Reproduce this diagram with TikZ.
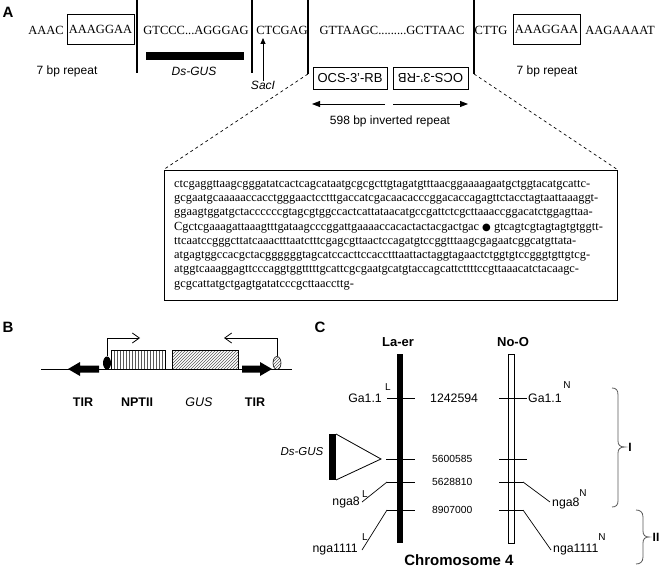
\documentclass[tikz,border=0pt]{standalone}
\usepackage{fontspec}
\setmainfont{Liberation Serif}
\setsansfont{Liberation Sans}
\newfontfamily\dejavu{DejaVu Sans}
\usetikzlibrary{arrows.meta,patterns,shapes.geometric}
\begin{document}
\begin{tikzpicture}[x=1pt,y=-1pt,
  seqtxt/.style={font=\rmfamily\fontsize{12.5}{14}\selectfont, inner sep=0pt},
  dna/.style={font=\rmfamily\fontsize{12.4}{14}\selectfont, inner sep=0pt, anchor=west},
  lab/.style={font=\sffamily\fontsize{12}{14}\selectfont, inner sep=0pt},
  ilab/.style={font=\sffamily\itshape\fontsize{12}{14}\selectfont, inner sep=0pt},
  panel/.style={font=\sffamily\bfseries\fontsize{15}{17}\selectfont, inner sep=0pt},
  blab/.style={font=\sffamily\bfseries\fontsize{12.5}{14}\selectfont, inner sep=0pt},
  mklab/.style={font=\sffamily\fontsize{12.3}{14}\selectfont, inner sep=0pt},
  num/.style={font=\sffamily\fontsize{10.3}{12}\selectfont, inner sep=0pt, anchor=west},
  supl/.style={font=\sffamily\fontsize{10}{11}\selectfont, inner sep=0pt},
  sepline/.style={line width=2.6pt},
  ocsbox/.style={draw, line width=0.8pt, minimum height=22pt, inner sep=0pt, font=\sffamily\fontsize{13}{15}\selectfont},
  tickline/.style={line width=0.8pt},
  conn/.style={line width=0.7pt},
  bent/.style={line width=0.8pt, -{Straight Barb[length=7pt,width=10pt]}},
  bracepath/.style={line width=0.8pt, gray!70!black}
]
\useasboundingbox (0,0) rectangle (661,569);

% ---------------- Panel A ----------------
\node[panel] (A) at (8,12) {A};
\node[seqtxt] (s1) at (46,30) {AAAC};
\node[seqtxt, draw, line width=0.8pt, minimum width=67pt, minimum height=30pt] (r1) at (100.5,29) {AAAGGAA};
\node[seqtxt] (s2) at (196,30) {GTCCC...AGGGAG};
\node[seqtxt] (s3) at (282,30) {CTCGAG};
\node[seqtxt] (s4) at (392,30) {GTTAAGC.........GCTTAAC};
\node[seqtxt] (s5) at (491,30) {CTTG};
\node[seqtxt, draw, line width=0.8pt, minimum width=67pt, minimum height=30pt] (r2) at (546.5,29) {AAAGGAA};
\node[seqtxt] (s6) at (620,30) {AAGAAAAT};

\coordinate (v1t) at (137,0); \coordinate (v1b) at (137,73);
\coordinate (v2t) at (252,0); \coordinate (v2b) at (252,73);
\coordinate (v3t) at (308,0); \coordinate (v3b) at (308,74);
\coordinate (v4t) at (474,0); \coordinate (v4b) at (474,74);
\draw[sepline] (v1t) -- (v1b);
\draw[sepline] (v2t) -- (v2b);
\draw[sepline] (v3t) -- (v3b);
\draw[sepline] (v4t) -- (v4b);

\fill (146,52) rectangle (244,60);
\node[lab] (rep1) at (67,71) {7 bp repeat};
\node[ilab] (dsgusA) at (194,71) {Ds-GUS};
\node[ilab] (sac) at (263,85) {SacI};
\coordinate (sactip) at (263,38);
\draw[line width=0.8pt, -{Triangle[length=6pt,width=5pt]}] (sac.north) -- (sactip);
\node[lab] (rep2) at (547,71) {7 bp repeat};

\node[ocsbox, minimum width=74pt] (ocs1) at (350,78) {OCS-3'-RB};
\node[ocsbox, minimum width=75pt] (ocs2) at (430.5,78) {\rotatebox{180}{OCS-3'-RB}};
\coordinate (ar1a) at (385,104); \coordinate (ar1b) at (312,104);
\coordinate (ar2a) at (393,104); \coordinate (ar2b) at (468,104);
\draw[line width=0.8pt, -{Triangle[length=8pt,width=6pt]}] (ar1a) -- (ar1b);
\draw[line width=0.8pt, -{Triangle[length=8pt,width=6pt]}] (ar2a) -- (ar2b);
\node[lab] (inv) at (390,121) {598 bp inverted repeat};

\node[draw, line width=0.8pt, minimum width=453pt, minimum height=130pt, inner sep=0pt] (seqbox) at (390.5,235) {};
\draw[dashed, line width=0.7pt] (v3b) -- (seqbox.north west);
\draw[dashed, line width=0.7pt] (v4b) -- (seqbox.north east);

\node[dna] (l1) at (174,185.0) {ctcgaggttaagcgggatatcactcagcataatgcgcgcttgtagatgtttaacggaaaagaatgctggtacatgcattc-};
\node[dna] (l2) at (174,199.3) {gcgaatgcaaaaaccacctgggaactcctttgaccatcgacaacacccggacaccagagttctacctagtaattaaaggt-};
\node[dna] (l3) at (174,213.6) {ggaagtggatgctaccccccgtagcgtggccactcattataacatgccgattctcgcttaaaccggacatctggagttaa-};
\node[dna] (l4) at (174,227.9) {Cgctcgaaagattaaagtttgataagcccggattgaaaaccacactactacgactgac {\dejavu\fontsize{10}{12}\selectfont ●} gtcagtcgtagtagtgtggtt-};
\node[dna] (l5) at (174,242.2) {ttcaatccgggcttatcaaactttaatctttcgagcgttaactccagatgtccggtttaagcgagaatcggcatgttata-};
\node[dna] (l6) at (174,256.5) {atgagtggccacgctacggggggtagcatccacttccacctttaattactaggtagaactctggtgtccgggtgttgtcg-};
\node[dna] (l7) at (174,270.8) {atggtcaaaggagttcccaggtggtttttgcattcgcgaatgcatgtaccagcattcttttccgttaaacatctacaagc-};
\node[dna] (l8) at (174,285.1) {gcgcattatgctgagtgatatcccgcttaaccttg-};

% ---------------- Panel B ----------------
\node[panel] (B) at (8,327) {B};
\coordinate (bl) at (41,369); \coordinate (br) at (292,369);
\draw[line width=0.8pt] (bl) -- (br);
\fill (68,369) -- (80,362) -- (80,365.5) -- (99,365.5) -- (99,372.5) -- (80,372.5) -- (80,376) -- cycle;
\fill (272,369) -- (260,362) -- (260,365.5) -- (242,365.5) -- (242,372.5) -- (260,372.5) -- (260,376) -- cycle;
\node[draw, line width=0.8pt, pattern=vertical lines, pattern color=gray!70!black, minimum width=54pt, minimum height=19pt, inner sep=0pt] (npt) at (138,359.5) {};
\node[draw, line width=0.8pt, pattern=north east lines, pattern color=gray!70!black, minimum width=66pt, minimum height=19pt, inner sep=0pt] (gus) at (205,359.5) {};
\node[ellipse, fill=black, minimum width=8pt, minimum height=13pt, inner sep=0pt] (p1) at (107,363) {};
\node[ellipse, draw, line width=0.6pt, pattern=north east lines, pattern color=gray!70!black, minimum width=8pt, minimum height=13pt, inner sep=0pt] (p2) at (277,363) {};
\coordinate (b1e) at (140,338);
\coordinate (b2e) at (224,338);
\draw[bent] (p1.north) |- (b1e);
\draw[bent] (p2.north) |- (b2e);
\node[blab] (tir1) at (83,402) {TIR};
\node[blab] (nptl) at (137,402) {NPTII};
\node[font=\sffamily\itshape\fontsize{12.5}{14}\selectfont, inner sep=0pt] (gusl) at (199,402) {GUS};
\node[blab] (tir2) at (255,402) {TIR};

% ---------------- Panel C ----------------
\node[panel] (C) at (320,327) {C};
\node[font=\sffamily\bfseries\fontsize{13}{15}\selectfont, inner sep=0pt] (laer) at (398,342) {La-er};
\node[font=\sffamily\bfseries\fontsize{13}{15}\selectfont, inner sep=0pt] (noo) at (513,342) {No-O};
\fill (397,354) rectangle (403,543);
\draw[line width=0.8pt] (508,354) rectangle (514.5,543);

% ticks La-er
\coordinate (LaT1) at (387,398); \coordinate (LaT1e) at (415,398);
\coordinate (LaT2) at (386,459); \coordinate (LaT2e) at (415,459);
\coordinate (LaT3) at (387,482); \coordinate (LaT3e) at (415,482);
\coordinate (LaT4) at (387,510); \coordinate (LaT4e) at (415,510);
\draw[tickline] (LaT1) -- (LaT1e);
\draw[tickline] (LaT2) -- (LaT2e);
\draw[tickline] (LaT3) -- (LaT3e);
\draw[tickline] (LaT4) -- (LaT4e);
% ticks No-O
\coordinate (NoT1) at (499,398); \coordinate (NoT1e) at (527,398);
\coordinate (NoT2) at (499,459); \coordinate (NoT2e) at (527,459);
\coordinate (NoT3) at (499,482); \coordinate (NoT3e) at (523,482);
\coordinate (NoT4) at (499,510); \coordinate (NoT4e) at (523,510);
\draw[tickline] (NoT1) -- (NoT1e);
\draw[tickline] (NoT2) -- (NoT2e);
\draw[tickline] (NoT3) -- (NoT3e);
\draw[tickline] (NoT4) -- (NoT4e);

\node[num, font=\sffamily\fontsize{12.3}{14}\selectfont] (n1) at (430,398) {1242594};
\node[num] (n2) at (432,459) {5600585};
\node[num] (n3) at (432,482) {5628810};
\node[num] (n4) at (432,510) {8907000};

% markers La-er
\node[mklab, anchor=east] (ga1L) at (382,398) {Ga1.1};
\node[supl] (ga1Ls) at (388,387) {L};
\node[mklab, anchor=east] (nga8L) at (360,502) {nga8};
\node[supl] (nga8Ls) at (365,494) {L};
\node[mklab, anchor=east] (nga11L) at (358,550) {nga1111};
\node[supl] (nga11Ls) at (365,537) {L};
\coordinate (c8L) at (362,502);
\coordinate (c11L) at (362,550);
\draw[conn] (LaT3) -- (c8L);
\draw[conn] (LaT4) -- (c11L);

% markers No-O
\node[mklab, anchor=west] (ga1N) at (528,398) {Ga1.1};
\node[supl] (ga1Ns) at (567,385) {N};
\node[mklab, anchor=west] (nga8N) at (552,503) {nga8};
\node[supl] (nga8Ns) at (583,493) {N};
\node[mklab, anchor=west] (nga11N) at (553,550) {nga1111};
\node[supl] (nga11Ns) at (602,537) {N};
\coordinate (c8N) at (550,502);
\coordinate (c11N) at (551,550);
\draw[conn] (NoT3e) -- (c8N);
\draw[conn] (NoT4e) -- (c11N);

% Ds-GUS insertion
\fill (329,434) rectangle (336,480);
\coordinate (triA) at (336,434); \coordinate (triB) at (336,480); \coordinate (triC) at (381,459);
\draw[line width=0.8pt] (triA) -- (triC) -- (triB);
\node[font=\sffamily\itshape\fontsize{11.5}{13}\selectfont, inner sep=0pt] (dsgusC) at (302,452) {Ds-GUS};

\node[font=\sffamily\bfseries\fontsize{15}{17}\selectfont, inner sep=0pt] (chr) at (459,560) {Chromosome 4};

% braces
\draw[bracepath] (612,388) .. controls (616,388) and (618,390) .. (618,395) -- (618,441) .. controls (618,445) and (620,447) .. (625,447) .. controls (620,447) and (618,449) .. (618,453) -- (618,501) .. controls (618,505) and (616,507) .. (612,507);
\node[font=\sffamily\bfseries\fontsize{12}{14}\selectfont, inner sep=0pt] (bI) at (630,447) {I};
\draw[bracepath] (636,510) .. controls (640,510) and (643,512) .. (643,517) -- (643,531) .. controls (643,535) and (645,537) .. (649,537) .. controls (645,537) and (643,539) .. (643,543) -- (643,557) .. controls (643,562) and (640,564) .. (636,564);
\node[font=\sffamily\bfseries\fontsize{12}{14}\selectfont, inner sep=0pt] (bII) at (656,537) {II};
\end{tikzpicture}
\end{document}
